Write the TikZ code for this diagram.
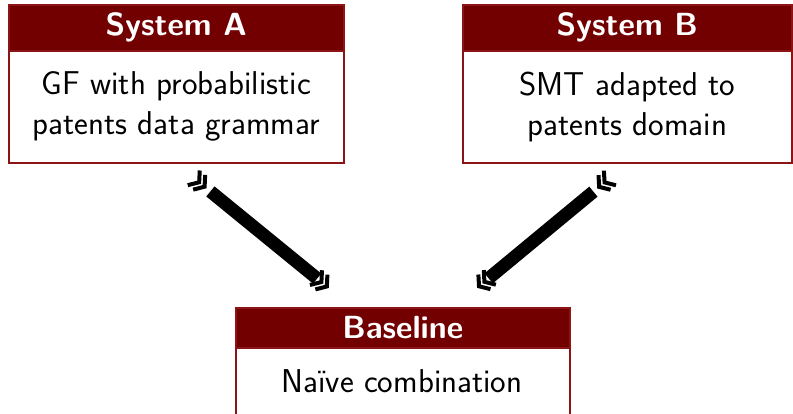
\documentclass[tikz,border=0pt]{standalone}
\usetikzlibrary{arrows.meta,decorations.markings}
\definecolor{boxred}{RGB}{115,0,0}
\definecolor{edgered}{RGB}{140,20,20}
\begin{document}
\begin{tikzpicture}[x=1pt,y=-1pt,
  chev/.tip={Straight Barb[length=7pt 0 0,width=19pt 0 0,line width'=4pt]},
  titlebar/.style={draw=edgered, fill=boxred, line width=1.6pt, inner sep=0pt,
    anchor=north west},
  bodybox/.style={draw=edgered, fill=white, line width=1.6pt, inner sep=0pt,
    anchor=north west},
  titletext/.style={text=white, inner sep=0pt,
    font=\sffamily\bfseries\fontsize{32}{38}\selectfont},
  bodytext/.style={text=black, inner sep=0pt, align=center,
    font=\sffamily\fontsize{33}{40}\selectfont},
  % thick shaft with a pair of chevrons at each end, all pointing forward
  flow/.style={line width=13pt, black, shorten <=44pt, shorten >=45pt,
    postaction={decorate, decoration={markings,
      mark=at position 32pt with {\arrow{chev}},
      mark=at position 39pt with {\arrow{chev}},
      mark=at position -37pt with {\arrow{chev}},
      mark=at position -30pt with {\arrow{chev}}}}}
]
\useasboundingbox (0,0) rectangle (793,413);
\clip (0,0) rectangle (793,413);

% System A
\node[bodybox, minimum width=335pt, minimum height=112pt] (bodyA) at (8,50) {};
\node[titlebar, minimum width=335pt, minimum height=46pt] (titleA) at (8,4) {};
\node[titletext] (labelA) at (titleA.center) {System A};
\node[bodytext] (textA) at (bodyA.center) {GF with probabilistic\\patents data grammar};

% System B
\node[bodybox, minimum width=329pt, minimum height=112pt] (bodyB) at (462,50) {};
\node[titlebar, minimum width=329pt, minimum height=46pt] (titleB) at (462,4) {};
\node[titletext] (labelB) at (titleB.center) {System B};
\node[bodytext] (textB) at (bodyB.center) {SMT adapted to\\patents domain};

% Baseline
\node[bodybox, minimum width=334pt, minimum height=112pt] (bodyC) at (235,347) {};
\node[titlebar, minimum width=334pt, minimum height=40pt] (titleC) at (235,307) {};
\node[titletext] (labelC) at (titleC.center) {Baseline};
\node[bodytext] (textC) at (402,381) {Naïve combination};

% Connectors
\coordinate (inA) at (352,307);
\coordinate (inB) at (454,307);
\draw[flow] (bodyA.south) -- (inA);
\draw[flow] (bodyB.south) -- (inB);
\end{tikzpicture}
\end{document}
